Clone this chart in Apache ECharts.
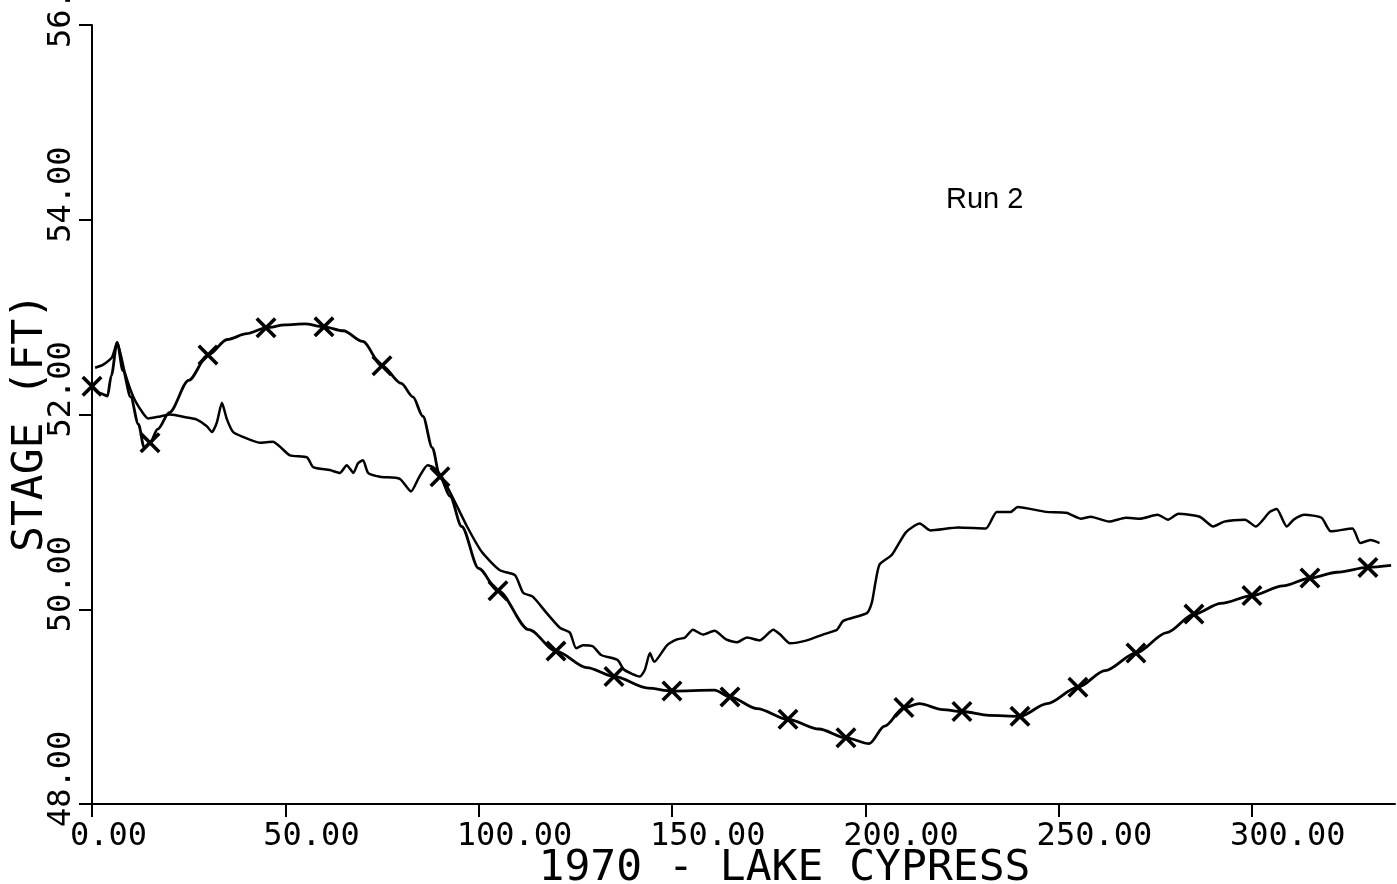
<!DOCTYPE html>
<html>
<head>
<meta charset="utf-8">
<title>1970 - Lake Cypress, Run 2</title>
<script src="https://cdn.jsdelivr.net/npm/echarts@6/dist/echarts.min.js"></script>
<style>
  html, body { margin: 0; padding: 0; background: #fff; }
  #chart { width: 1397px; height: 884px; }
</style>
</head>
<body>
<div id="chart"></div>
<script>
// Lake stage (ft) against day of 1970.
// Simulated stage: smooth curve, marked with an X every 15 days.
const simDays = [0, 2, 4, 5, 6.5, 8, 10, 12, 13.5, 15, 17, 20, 25, 30, 35, 40, 45, 50, 55, 60,
  65, 70, 75, 80, 83, 85.6, 88, 90, 92.6, 95.6, 100, 105, 113, 120, 128, 135, 143.8, 150, 161, 165,
  172, 180, 188, 195, 201, 205, 210, 214, 220, 225, 232, 240, 247, 255, 262, 270, 278, 285, 292, 300,
  308, 315, 322, 330, 336];
const simStage = [52.29, 52.22, 52.19, 52.40, 52.74, 52.45, 52.18, 51.90, 51.66, 51.71, 51.85, 52.02, 52.35, 52.61, 52.77, 52.83, 52.89, 52.92, 52.93, 52.90,
  52.86, 52.75, 52.50, 52.32, 52.18, 51.98, 51.66, 51.36, 51.16, 50.85, 50.42, 50.19, 49.79, 49.57, 49.40, 49.31, 49.19, 49.16, 49.17, 49.10,
  48.98, 48.87, 48.77, 48.68, 48.62, 48.80, 48.99, 49.03, 48.97, 48.95, 48.91, 48.90, 49.03, 49.20, 49.37, 49.55, 49.76, 49.95, 50.06, 50.14,
  50.24, 50.32, 50.38, 50.43, 50.45];

// Observed stage: noisy gauge record.
const obsDays = [0.8, 2.8, 5.2, 6.5, 8.5, 10.7, 12.9, 14.5, 17.6, 20.2, 24.5, 27, 29.7, 31, 32.3, 33.6, 34.9, 36.5, 39, 43.4,
  46.8, 48.6, 51.2, 55.6, 57.2, 61.5, 64.1, 65.9, 67.6, 68.8, 70.1, 71.4, 74.5, 79.6, 82.5, 84.5, 86.8, 88.5, 90.5, 93.4,
  97, 100.8, 105.5, 109.4, 111.5, 114, 117.6, 121, 123.6, 125.2, 127, 129.5, 131.7, 135.9, 137.6, 141.7, 143, 144.3, 145.4, 148.7,
  151.3, 153.4, 155.4, 158, 161, 164, 166.8, 169.4, 172.7, 176.2, 178, 180.5, 184.9, 189, 192.7, 194.3, 200.4, 201.7, 202.6, 203.7,
  206.9, 210.5, 214.1, 216.8, 224, 231.2, 234, 237.6, 239.4, 246.7, 252, 255.7, 258.3, 263, 267.4, 271, 275.6, 278.3, 281, 286.5,
  290, 292.8, 298.2, 301, 304.6, 306.4, 309, 310.8, 313.6, 318, 320.4, 326, 328, 330.7, 333];
const obsStage = [52.48, 52.51, 52.59, 52.74, 52.43, 52.18, 52.03, 51.96, 51.98, 52.00, 51.97, 51.95, 51.88, 51.82, 51.92, 52.12, 51.95, 51.82, 51.77, 51.71,
  51.72, 51.67, 51.58, 51.56, 51.46, 51.43, 51.40, 51.48, 51.40, 51.50, 51.53, 51.40, 51.36, 51.34, 51.21, 51.35, 51.48, 51.45, 51.36, 51.14,
  50.85, 50.59, 50.40, 50.35, 50.17, 50.13, 49.96, 49.81, 49.76, 49.60, 49.63, 49.62, 49.53, 49.48, 49.38, 49.31, 49.38, 49.55, 49.46, 49.63,
  49.69, 49.71, 49.79, 49.74, 49.78, 49.69, 49.66, 49.71, 49.68, 49.79, 49.74, 49.65, 49.68, 49.74, 49.79, 49.88, 49.96, 50.07, 50.27, 50.46,
  50.56, 50.79, 50.88, 50.81, 50.84, 50.83, 51.00, 51.00, 51.05, 51.00, 50.99, 50.93, 50.95, 50.90, 50.94, 50.93, 50.97, 50.92, 50.98, 50.95,
  50.85, 50.90, 50.92, 50.85, 51.00, 51.03, 50.85, 50.92, 50.97, 50.94, 50.80, 50.83, 50.68, 50.71, 50.68];

const xTicks = [0, 50, 100, 150, 200, 250, 300];
const yTicks = [48, 50, 52, 54, 56];
const markerEvery = 15;

const INK = '#000';
const PLOT_FONT = '"DejaVu Sans Mono", monospace';
// filled X used for the simulated-stage markers
const X_MARK = 'path://M0,1.2L1.2,0L5,3.8L8.8,0L10,1.2L6.2,5L10,8.8L8.8,10L5,6.2L1.2,10L0,8.8L3.8,5Z';

const pair = (xs, ys) => xs.map((x, i) => [x, ys[i]]);

const chart = echarts.init(document.getElementById('chart'), null, { renderer: 'canvas' });

chart.setOption({
  backgroundColor: '#fff',
  animation: false,
  grid: { left: 92, right: 2, top: 25, bottom: 80, containLabel: false, outerBoundsMode: 'none' },
  xAxis: {
    type: 'value',
    min: 0,
    max: 337,
    interval: 50,
    name: '1970 - LAKE CYPRESS',
    nameLocation: 'middle',
    nameGap: 43,
    nameMoveOverlap: false,
    nameTextStyle: { color: INK, fontFamily: PLOT_FONT, fontSize: 43, padding: [0, 0, 0, 82] },
    axisLine: { show: true, onZero: false, lineStyle: { color: INK, width: 2 } },
    axisTick: { show: true, length: 13, customValues: xTicks, lineStyle: { color: INK, width: 2 } },
    axisLabel: {
      customValues: xTicks,
      color: INK, fontFamily: PLOT_FONT, fontSize: 32,
      margin: 17, align: 'left', padding: [0, 0, 0, -22],
      formatter: v => v.toFixed(2)
    },
    splitLine: { show: false }
  },
  yAxis: {
    type: 'value',
    min: 48,
    max: 56,
    interval: 2,
    name: 'STAGE (FT)',
    nameLocation: 'middle',
    nameRotate: 90,
    nameGap: 40,
    nameMoveOverlap: false,
    nameTextStyle: { color: INK, fontFamily: PLOT_FONT, fontSize: 43, padding: [0, 16, 0, 0] },
    axisLine: { show: true, onZero: false, lineStyle: { color: INK, width: 2 } },
    axisTick: { show: true, length: 13, customValues: yTicks, lineStyle: { color: INK, width: 2 } },
    axisLabel: {
      customValues: yTicks,
      color: INK, fontFamily: PLOT_FONT, fontSize: 32,
      rotate: 90, margin: 30, align: 'left', verticalAlign: 'middle', padding: [0, 0, 0, -23],
      formatter: v => v.toFixed(2)
    },
    splitLine: { show: false }
  },
  series: [
    {
      name: 'Simulated',
      type: 'line',
      data: pair(simDays, simStage),
      smooth: 0.3,
      smoothMonotone: 'x',
      showAllSymbol: true,
      symbol: v => (v[0] % markerEvery === 0 ? X_MARK : 'none'),
      symbolSize: 21,
      itemStyle: { color: INK },
      lineStyle: { color: INK, width: 2.8 },
      z: 3
    },
    {
      name: 'Observed',
      type: 'line',
      data: pair(obsDays, obsStage),
      smooth: 0.2,
      showSymbol: false,
      lineStyle: { color: INK, width: 2.5 },
      z: 2
    }
  ],
  graphic: [
    {
      type: 'text',
      left: 946,
      top: 185,
      style: { text: 'Run 2', fill: INK, font: '29px "Liberation Sans", sans-serif' }
    }
  ]
});
</script>
</body>
</html>
